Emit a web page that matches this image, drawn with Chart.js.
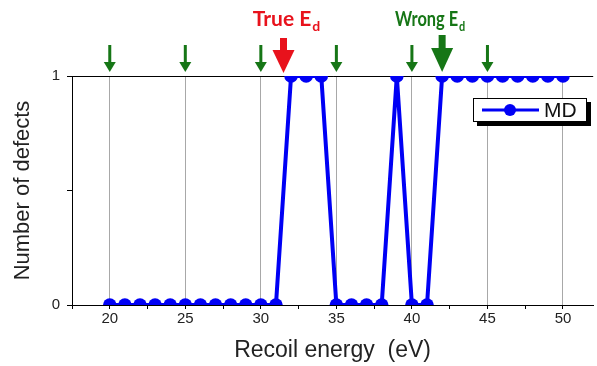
<!DOCTYPE html>
<html>
<head>
<meta charset="utf-8">
<script src="https://cdn.jsdelivr.net/npm/chart.js@4.4.1/dist/chart.umd.min.js"></script>
<style>
  html, body { margin: 0; padding: 0; background: #fff; overflow: hidden; }
  canvas { display: block; }
</style>
</head>
<body>
<canvas id="myChart" width="600" height="366"></canvas>
<script>
// recoil energy (eV) and number of defects from MD
var energy = [20,21,22,23,24,25,26,27,28,29,30,31,32,33,34,35,36,37,38,39,40,41,42,43,44,45,46,47,48,49,50];
var defects = [0,0,0,0,0,0,0,0,0,0,0,0,1,1,1,0,0,0,0,1,0,0,1,1,1,1,1,1,1,1,1];
var seriesName = 'MD';

// arrow markers along the top (energies)
var smallArrows = [20, 25, 30, 35, 40, 45];
var trueEd = 31.5;
var wrongEd = 42;

var blue = 'rgb(0,0,245)';
var green = 'rgb(22,118,22)';
var red = 'rgb(232,18,28)';

function arrow(ctx, x, top, bottom, shaftW, headW, headH, color) {
  ctx.fillStyle = color;
  ctx.fillRect(x - shaftW / 2, top, shaftW, bottom - headH - top + 1);
  ctx.beginPath();
  ctx.moveTo(x - headW / 2, bottom - headH);
  ctx.lineTo(x + headW / 2, bottom - headH);
  ctx.lineTo(x, bottom);
  ctx.closePath();
  ctx.fill();
}

// text with a subscript, squeezed horizontally by sx
function label(ctx, x, y, main, sub, color, sx) {
  ctx.font = 'bold 21px Lato';
  var w1 = ctx.measureText(main).width;
  ctx.font = 'bold 14px Lato';
  var w2 = ctx.measureText(sub).width;
  var w = (w1 + w2 + 1) * sx;
  ctx.save();
  ctx.translate(x - w / 2, y);
  ctx.scale(sx, 1);
  ctx.fillStyle = color;
  ctx.textAlign = 'left';
  ctx.textBaseline = 'alphabetic';
  ctx.font = 'bold 21px Lato';
  ctx.fillText(main, 0, 0);
  ctx.font = 'bold 14px Lato';
  ctx.fillText(sub, w1 + 1, 5);
  ctx.restore();
}

var extras = {
  id: 'extras',
  afterDraw: function (chart) {
    var ctx = chart.ctx;
    var xs = chart.scales.x;
    ctx.save();
    smallArrows.forEach(function (e) {
      arrow(ctx, xs.getPixelForValue(e), 45, 72, 3, 12, 10, green);
    });
    arrow(ctx, xs.getPixelForValue(trueEd), 38, 73, 7, 22, 23, red);
    arrow(ctx, xs.getPixelForValue(wrongEd), 35, 72, 7, 22, 24, green);
    label(ctx, xs.getPixelForValue(trueEd) + 3, 26, 'True E', 'd', red, 1);
    label(ctx, xs.getPixelForValue(wrongEd) - 12, 26, 'Wrong E', 'd', green, 0.78);

    // legend box
    ctx.fillStyle = '#000';
    ctx.fillRect(477, 102, 114, 24);
    ctx.fillStyle = '#fff';
    ctx.fillRect(473, 98, 114, 24);
    ctx.strokeStyle = '#000';
    ctx.lineWidth = 1;
    ctx.strokeRect(473.5, 98.5, 113, 23);
    ctx.strokeStyle = blue;
    ctx.lineWidth = 3;
    ctx.beginPath();
    ctx.moveTo(482, 110);
    ctx.lineTo(539, 110);
    ctx.stroke();
    ctx.fillStyle = blue;
    ctx.beginPath();
    ctx.arc(510, 110, 6, 0, Math.PI * 2);
    ctx.fill();
    ctx.fillStyle = '#111';
    ctx.font = '21px "Liberation Sans"';
    ctx.textAlign = 'left';
    ctx.textBaseline = 'middle';
    ctx.fillText(seriesName, 544, 111);
    ctx.restore();
  }
};

var points = energy.map(function (e, i) { return { x: e, y: defects[i] }; });

function onStep(v, step) { return Math.abs(v / step - Math.round(v / step)) < 1e-6; }

var ctx = document.getElementById('myChart').getContext('2d');
var config = {
  type: 'line',
  data: {
    datasets: [{
      label: seriesName,
      data: points,
      borderColor: blue,
      backgroundColor: blue,
      borderWidth: 4,
      pointRadius: 6.8,
      pointBorderWidth: 0,
      pointBackgroundColor: blue,
      tension: 0,
      clip: 0
    }]
  },
  options: {
    responsive: false,
    animation: false,
    layout: { padding: { top: 76, right: 0, left: 0, bottom: 0 } },
    plugins: { legend: { display: false }, tooltip: { enabled: false } },
    scales: {
      x: {
        type: 'linear',
        min: 17.5,
        max: 52,
        afterFit: function (s) { s.height = 61; },
        ticks: {
          stepSize: 2.5,
          autoSkip: false,
          maxRotation: 0,
          padding: 1,
          color: '#222',
          font: { family: 'Liberation Sans', size: 15 },
          callback: function (v) { return onStep(v, 5) ? v : ''; }
        },
        grid: {
          color: function (c) {
            return c.tick && onStep(c.tick.value, 5) ? '#a8a8a8' : 'rgba(0,0,0,0)';
          },
          tickColor: function (c) {
            return c.tick && onStep(c.tick.value, 2.5) ? '#000' : 'rgba(0,0,0,0)';
          },
          tickLength: 4
        },
        border: { display: true, color: '#000', width: 1 },
        title: {
          display: true,
          text: 'Recoil energy  (eV)',
          color: '#222',
          font: { family: 'Liberation Sans', size: 23 },
          padding: { top: 0, bottom: 2 }
        }
      },
      y: {
        min: 0,
        max: 1,
        afterFit: function (s) { s.width = 72; },
        ticks: {
          stepSize: 0.5,
          padding: 7,
          color: '#222',
          font: { family: 'Liberation Sans', size: 15 },
          callback: function (v) { return (v === 0 || v === 1) ? v : ''; }
        },
        grid: {
          color: function (c) {
            return c.tick && c.tick.value === 1 ? '#000' : 'rgba(0,0,0,0)';
          },
          tickColor: '#000',
          tickLength: 5
        },
        border: { display: true, color: '#000', width: 1 },
        title: {
          display: true,
          text: 'Number of defects',
          color: '#222',
          font: { family: 'Liberation Sans', size: 22 },
          padding: { top: 10, bottom: 0 }
        }
      }
    }
  },
  plugins: [extras]
};

var chart = new Chart(ctx, config);
</script>
</body>
</html>
